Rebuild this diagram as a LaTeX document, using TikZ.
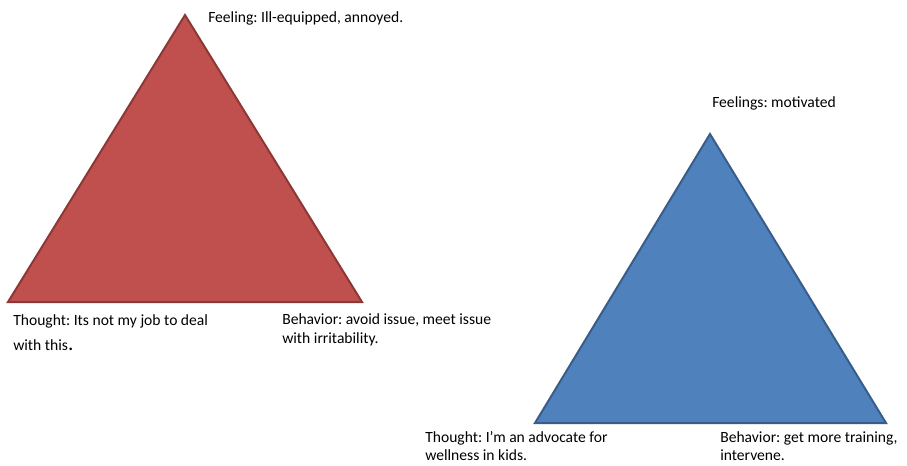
\documentclass[tikz,border=0pt]{standalone}
\usepackage{fontspec}
\setmainfont{Carlito}
\definecolor{redfill}{HTML}{C0504D}
\definecolor{redline}{HTML}{8C3836}
\definecolor{bluefill}{HTML}{4F81BD}
\definecolor{blueline}{HTML}{385D8A}
\begin{document}
\frenchspacing
\begin{tikzpicture}[x=0.75pt,y=-0.75pt,
  lbl/.style={anchor=base west,inner sep=0pt,font=\fontsize{11.7}{14}\selectfont},
  redtri/.style={fill=redfill,draw=redline,line width=1.5pt,line join=miter},
  bluetri/.style={fill=bluefill,draw=blueline,line width=1.5pt,line join=miter}]
\useasboundingbox[fill=white] (0,0) rectangle (907,465);
% triangles
\coordinate (ra) at (185,15);
\coordinate (rl) at (8,302);
\coordinate (rr) at (362,302);
\draw[redtri] (ra) -- (rr) -- (rl) -- cycle;
\coordinate (ba) at (710,134);
\coordinate (bl) at (535,423);
\coordinate (br) at (886,423);
\draw[bluetri] (ba) -- (br) -- (bl) -- cycle;
% labels left
\node[lbl] (rf) at (208,22) {Feeling: Ill-equipped, annoyed.};
\node[lbl] (rt1) at (13,325) {Thought: Its not my job to deal};
\node[lbl] (rt2) at (13,350) {with this{\fontsize{16}{18}\selectfont.}};
\node[lbl] (rb1) at (282,324) {Behavior: avoid issue, meet issue};
\node[lbl] (rb2) at (282,343) {with irritability.};
% labels right
\node[lbl] (bf) at (712,107) {Feelings: motivated};
\node[lbl] (bt1) at (425,442) {Thought: I’m an advocate for};
\node[lbl] (bt2) at (425,460) {wellness in kids.};
\node[lbl] (bb1) at (720,442) {Behavior: get more training,};
\node[lbl] (bb2) at (720,460) {intervene.};
\end{tikzpicture}
\end{document}
